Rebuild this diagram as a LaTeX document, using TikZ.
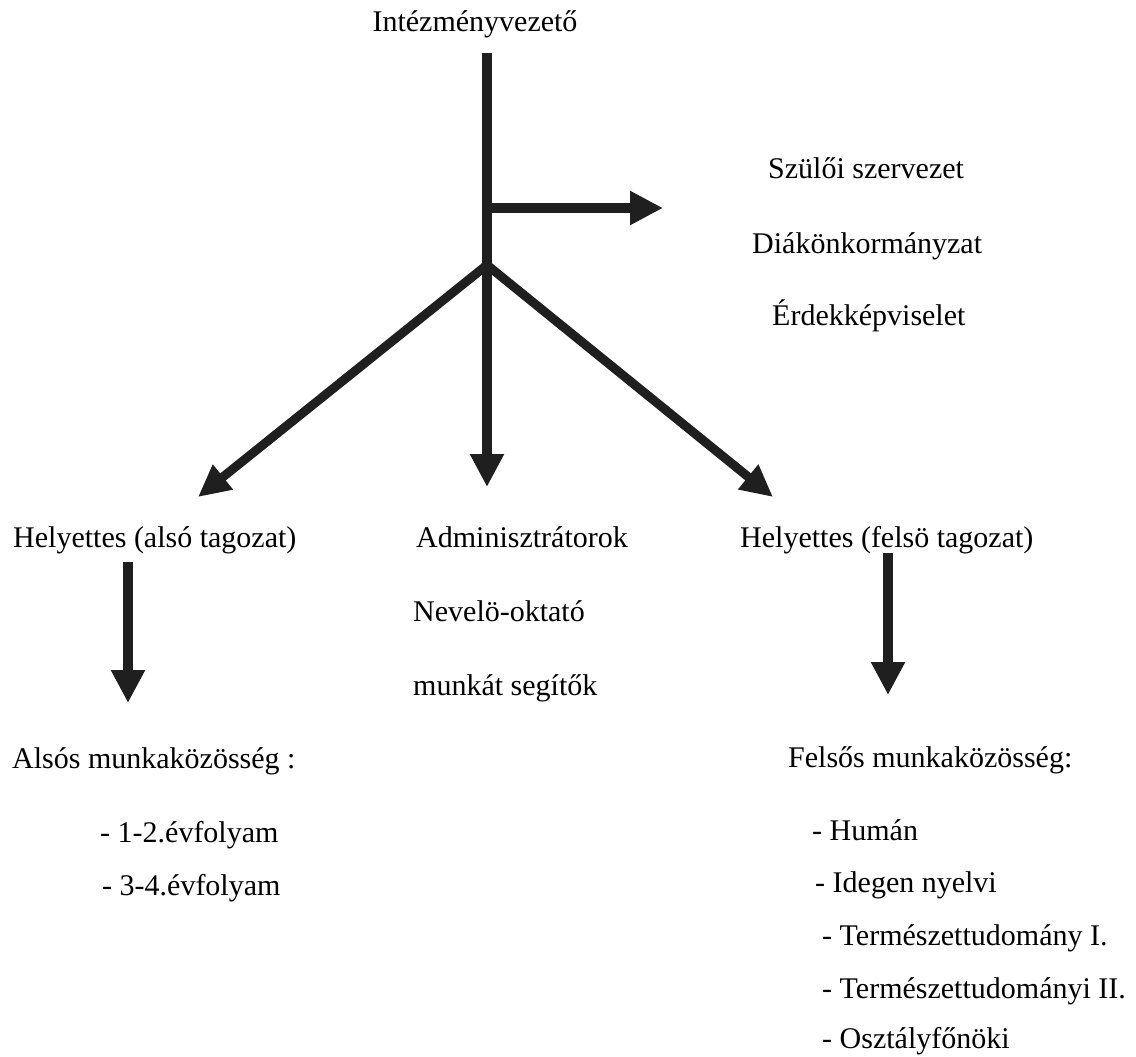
\documentclass[tikz,border=0pt]{standalone}
\usepackage{fontspec}
\setmainfont{Liberation Serif}
\usetikzlibrary{arrows.meta}
\tikzset{
  lbl/.style={inner sep=0pt, anchor=base west, font=\fontsize{30pt}{36pt}\selectfont},
  fatarrow/.style={draw=black!88, line width=10pt,
    -{Triangle[width=32pt,length=33pt,fill=black!88]}},
  diagarrow/.style={draw=black!88, line width=9pt,
    -{Triangle[width=30pt,length=32pt,fill=black!88]}}
}
\begin{document}
\begin{tikzpicture}[x=1pt,y=-1pt]
\useasboundingbox (0,0) rectangle (1136,1057);
% texts
\node[lbl, anchor=base] (head) at (475,32) {Intézményvezető};
\node[lbl] (szulo) at (768,178) {Szülői szervezet};
\node[lbl] (diak) at (752,253) {Diákönkormányzat};
\node[lbl] (erdek) at (772,325) {Érdekképviselet};
\node[lbl] (alsohely) at (13,547) {Helyettes (alsó tagozat)};
\node[lbl] (admin) at (416,547) {Adminisztrátorok};
\node[lbl] (felsohely) at (740,547) {Helyettes (felsö tagozat)};
\node[lbl] (nevelo) at (413,621) {Nevelö-oktató};
\node[lbl] (munkat) at (413,695) {munkát segítők};
\node[lbl] (also) at (12,768) {Alsós munkaközösség :};
\node[lbl] (a1) at (100,842) {- 1-2.évfolyam};
\node[lbl] (a2) at (102,895) {- 3-4.évfolyam};
\node[lbl] (felso) at (788,767) {Felsős munkaközösség:};
\node[lbl] (f1) at (812,840) {- Humán};
\node[lbl] (f2) at (815,892) {- Idegen nyelvi};
\node[lbl] (f3) at (822,945) {- Természettudomány I.};
\node[lbl] (f4) at (822,998) {- Természettudományi II.};
\node[lbl] (f5) at (822,1048) {- Osztályfőnöki};
% connector points
\coordinate (trunktop) at (487,53);
\coordinate (side) at (487,208);
\coordinate (branch) at (487,265);
\coordinate (sidetip) at (663,208);
\coordinate (admintip) at (487,487);
\coordinate (lefttip) at (198,497);
\coordinate (righttip) at (773,497);
\coordinate (ldtop) at (128,562);
\coordinate (ldtip) at (128,703);
\coordinate (rdtop) at (888,553);
\coordinate (rdtip) at (888,695);
% arrows
\draw[diagarrow] (branch) -- (lefttip);
\draw[diagarrow] (branch) -- (righttip);
\draw[fatarrow] (trunktop) -- (admintip);
\draw[fatarrow] (side) -- (sidetip);
\draw[fatarrow] (ldtop) -- (ldtip);
\draw[fatarrow] (rdtop) -- (rdtip);
\end{tikzpicture}
\end{document}
